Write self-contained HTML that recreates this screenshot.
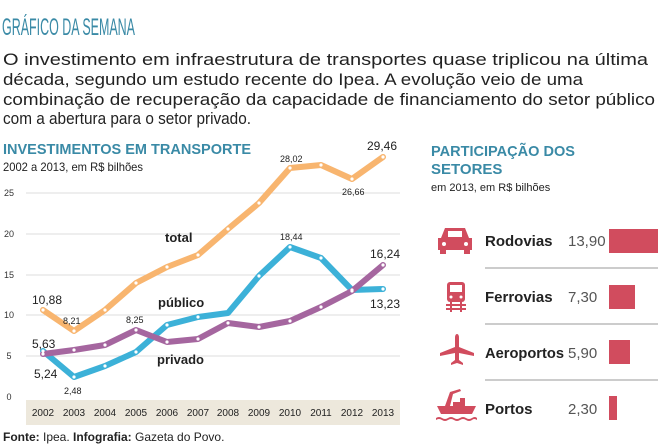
<!DOCTYPE html>
<html><head><meta charset="utf-8"><style>
html,body{margin:0;padding:0;background:#fff;}
svg{display:block;font-family:"Liberation Sans",sans-serif;}
</style></head><body>
<svg width="660" height="446" viewBox="0 0 660 446" xmlns="http://www.w3.org/2000/svg">
<text x="2" y="35" font-size="24" fill="#3a8aa6" textLength="133" lengthAdjust="spacingAndGlyphs">GRÁFICO DA SEMANA</text>
<g font-size="17" fill="#222">
<text x="3" y="65" textLength="645" lengthAdjust="spacingAndGlyphs">O investimento em infraestrutura de transportes quase triplicou na última</text>
<text x="3" y="85" textLength="580" lengthAdjust="spacingAndGlyphs">década, segundo um estudo recente do Ipea. A evolução veio de uma</text>
<text x="3" y="105" textLength="652" lengthAdjust="spacingAndGlyphs">combinação de recuperação da capacidade de financiamento do setor público</text>
<text x="3" y="124" textLength="248" lengthAdjust="spacingAndGlyphs">com a abertura para o setor privado.</text>
</g>
<text x="3" y="154" font-size="15" font-weight="bold" fill="#3a8aa6" textLength="248" lengthAdjust="spacingAndGlyphs">INVESTIMENTOS EM TRANSPORTE</text>
<text x="3" y="171" font-size="12" fill="#222" textLength="140" lengthAdjust="spacingAndGlyphs">2002 a 2013, em R$ bilhões</text>
<g stroke="#ddd" stroke-width="1">
<line x1="26" y1="193" x2="400" y2="193"/><line x1="26" y1="234" x2="400" y2="234"/>
<line x1="26" y1="275" x2="400" y2="275"/><line x1="26" y1="315" x2="400" y2="315"/>
<line x1="26" y1="356" x2="400" y2="356"/>
</g>
<g font-size="9" fill="#333" text-anchor="middle">
<text x="9" y="196">25</text><text x="9" y="237">20</text><text x="9" y="278">15</text>
<text x="9" y="318">10</text><text x="9" y="359">5</text><text x="9" y="400">0</text>
</g>
<rect x="26" y="400" width="374" height="25" fill="#ede8dc"/>
<g font-size="10" fill="#222" text-anchor="middle">
<text x="43" y="416">2002</text><text x="74" y="416">2003</text><text x="105" y="416">2004</text><text x="136" y="416">2005</text><text x="167" y="416">2006</text><text x="198" y="416">2007</text><text x="228" y="416">2008</text><text x="259" y="416">2009</text><text x="290" y="416">2010</text><text x="321" y="416">2011</text><text x="352" y="416">2012</text><text x="383" y="416">2013</text>
</g>
<g fill="none" stroke-width="6" stroke-linejoin="round" stroke-linecap="round">
<polyline stroke="#f8b56f" points="43,310 74,331 105,310 136,283 167,267 198,255 228,229 259,203 290,168 321,165 352,179 383,157"/>
<polyline stroke="#3cb1d8" points="43,351 74,377 105,366 136,352 167,325 198,317 228,313 259,276 290,247 321,258 352,290 383,289"/>
<polyline stroke="#a5669f" points="43,354 74,350 105,345 136,330 167,342 198,339 228,323 259,327 290,321 321,307 352,291 383,265"/>
</g>
<g fill="#fff">
<circle cx="43" cy="310" r="1.6"/><circle cx="74" cy="331" r="1.6"/><circle cx="105" cy="310" r="1.6"/><circle cx="136" cy="283" r="1.6"/><circle cx="167" cy="267" r="1.6"/><circle cx="198" cy="255" r="1.6"/><circle cx="228" cy="229" r="1.6"/><circle cx="259" cy="203" r="1.6"/><circle cx="290" cy="168" r="1.6"/><circle cx="321" cy="165" r="1.6"/><circle cx="352" cy="179" r="1.6"/><circle cx="383" cy="157" r="1.6"/>
<circle cx="43" cy="351" r="1.6"/><circle cx="74" cy="377" r="1.6"/><circle cx="105" cy="366" r="1.6"/><circle cx="136" cy="352" r="1.6"/><circle cx="167" cy="325" r="1.6"/><circle cx="198" cy="317" r="1.6"/><circle cx="259" cy="276" r="1.6"/><circle cx="290" cy="247" r="1.6"/><circle cx="321" cy="258" r="1.6"/><circle cx="352" cy="290" r="1.6"/><circle cx="383" cy="289" r="1.6"/>
<circle cx="43" cy="354" r="1.6"/><circle cx="74" cy="350" r="1.6"/><circle cx="105" cy="345" r="1.6"/><circle cx="136" cy="330" r="1.6"/><circle cx="167" cy="342" r="1.6"/><circle cx="198" cy="339" r="1.6"/><circle cx="228" cy="323" r="1.6"/><circle cx="259" cy="327" r="1.6"/><circle cx="290" cy="321" r="1.6"/><circle cx="321" cy="307" r="1.6"/><circle cx="352" cy="291" r="1.6"/><circle cx="383" cy="265" r="1.6"/>
</g>
<g font-size="13" font-weight="bold" fill="#222">
<text x="165" y="242">total</text><text x="158" y="307">público</text><text x="157" y="364">privado</text>
</g>
<g fill="#222" font-size="12">
<text x="32" y="304">10,88</text><text x="32" y="348">5,63</text><text x="34" y="378">5,24</text>
<text x="367" y="150">29,46</text><text x="370" y="258">16,24</text><text x="370" y="308">13,23</text>
</g>
<g fill="#222" font-size="9">
<text x="63" y="324">8,21</text><text x="64" y="394">2,48</text><text x="126" y="323">8,25</text>
<text x="280" y="162">28,02</text><text x="342" y="195">26,66</text><text x="280" y="240">18,44</text>
</g>
<text x="3" y="441" font-size="12" fill="#222"><tspan font-weight="bold">Fonte:</tspan> Ipea. <tspan font-weight="bold">Infografia:</tspan> Gazeta do Povo.</text>
<g font-size="15" font-weight="bold" fill="#3a8aa6">
<text x="431" y="156" textLength="144" lengthAdjust="spacingAndGlyphs">PARTICIPAÇÃO DOS</text>
<text x="431" y="174">SETORES</text>
</g>
<text x="431" y="191" font-size="11" fill="#222">em 2013, em R$ bilhões</text>
<g stroke="#999" stroke-width="1">
<line x1="485" y1="268" x2="658" y2="268"/><line x1="485" y1="324" x2="658" y2="324"/><line x1="485" y1="380" x2="658" y2="380"/>
</g>
<g font-size="15" fill="#222">
<text x="485" y="246" font-weight="bold">Rodovias</text><text x="568" y="246" fill="#555">13,90</text>
<text x="485" y="302" font-weight="bold">Ferrovias</text><text x="568" y="302" fill="#555">7,30</text>
<text x="485" y="358" font-weight="bold" textLength="79" lengthAdjust="spacingAndGlyphs">Aeroportos</text><text x="568" y="358" fill="#555">5,90</text>
<text x="485" y="414" font-weight="bold">Portos</text><text x="568" y="414" fill="#555">2,30</text>
</g>
<g fill="#d14c5e">
<rect x="609" y="229" width="49" height="24"/>
<rect x="609" y="285" width="26" height="24"/>
<rect x="609" y="340" width="21" height="24"/>
<rect x="609" y="396" width="8" height="24"/>
<path d="M445,228 h20 l4,10 h3 v12 h-34 v-12 h3 z"/>
<rect x="440" y="249" width="6" height="5"/><rect x="464" y="249" width="6" height="5"/>
<rect x="447" y="282" width="18" height="20" rx="3"/>
<rect x="446" y="304" width="20" height="2"/><rect x="446" y="308" width="20" height="2"/>
<rect x="450" y="302" width="2" height="10"/><rect x="460" y="302" width="2" height="10"/>
<path d="M457,334 q2,0 2,4 v9 l15,6 v3 l-15,-3 v7 l4,3 v2 l-6,-2 l-6,2 v-2 l4,-3 v-7 l-15,3 v-3 l15,-6 v-9 q0,-4 2,-4z"/>
<path d="M437,406 h39 l-4,8 h-31 z"/>
<path d="M445,406 l5,-14 l10,-3 l1,2 l-8,3 l-3,12 z"/>
<rect x="460" y="398" width="5" height="4"/><rect x="453" y="402" width="12" height="4"/>
<path d="M436,418 q3,-2 6,0 q3,2 6,0 q3,-2 6,0 q3,2 6,0 q3,-2 6,0 q3,2 6,0 q3,-2 5,0 v2 q-3,-2 -5,0 q-3,2 -6,0 q-3,-2 -6,0 q-3,2 -6,0 q-3,-2 -6,0 q-3,2 -6,0 q-3,-2 -6,0z"/>
</g>
<g fill="#fff">
<rect x="448" y="231" width="14" height="6"/>
<circle cx="444" cy="244" r="2"/><circle cx="466" cy="244" r="2"/>
<rect x="450" y="285" width="12" height="7"/>
<circle cx="451" cy="297" r="1.5"/><circle cx="461" cy="297" r="1.5"/>
</g>
</svg>
</body></html>
